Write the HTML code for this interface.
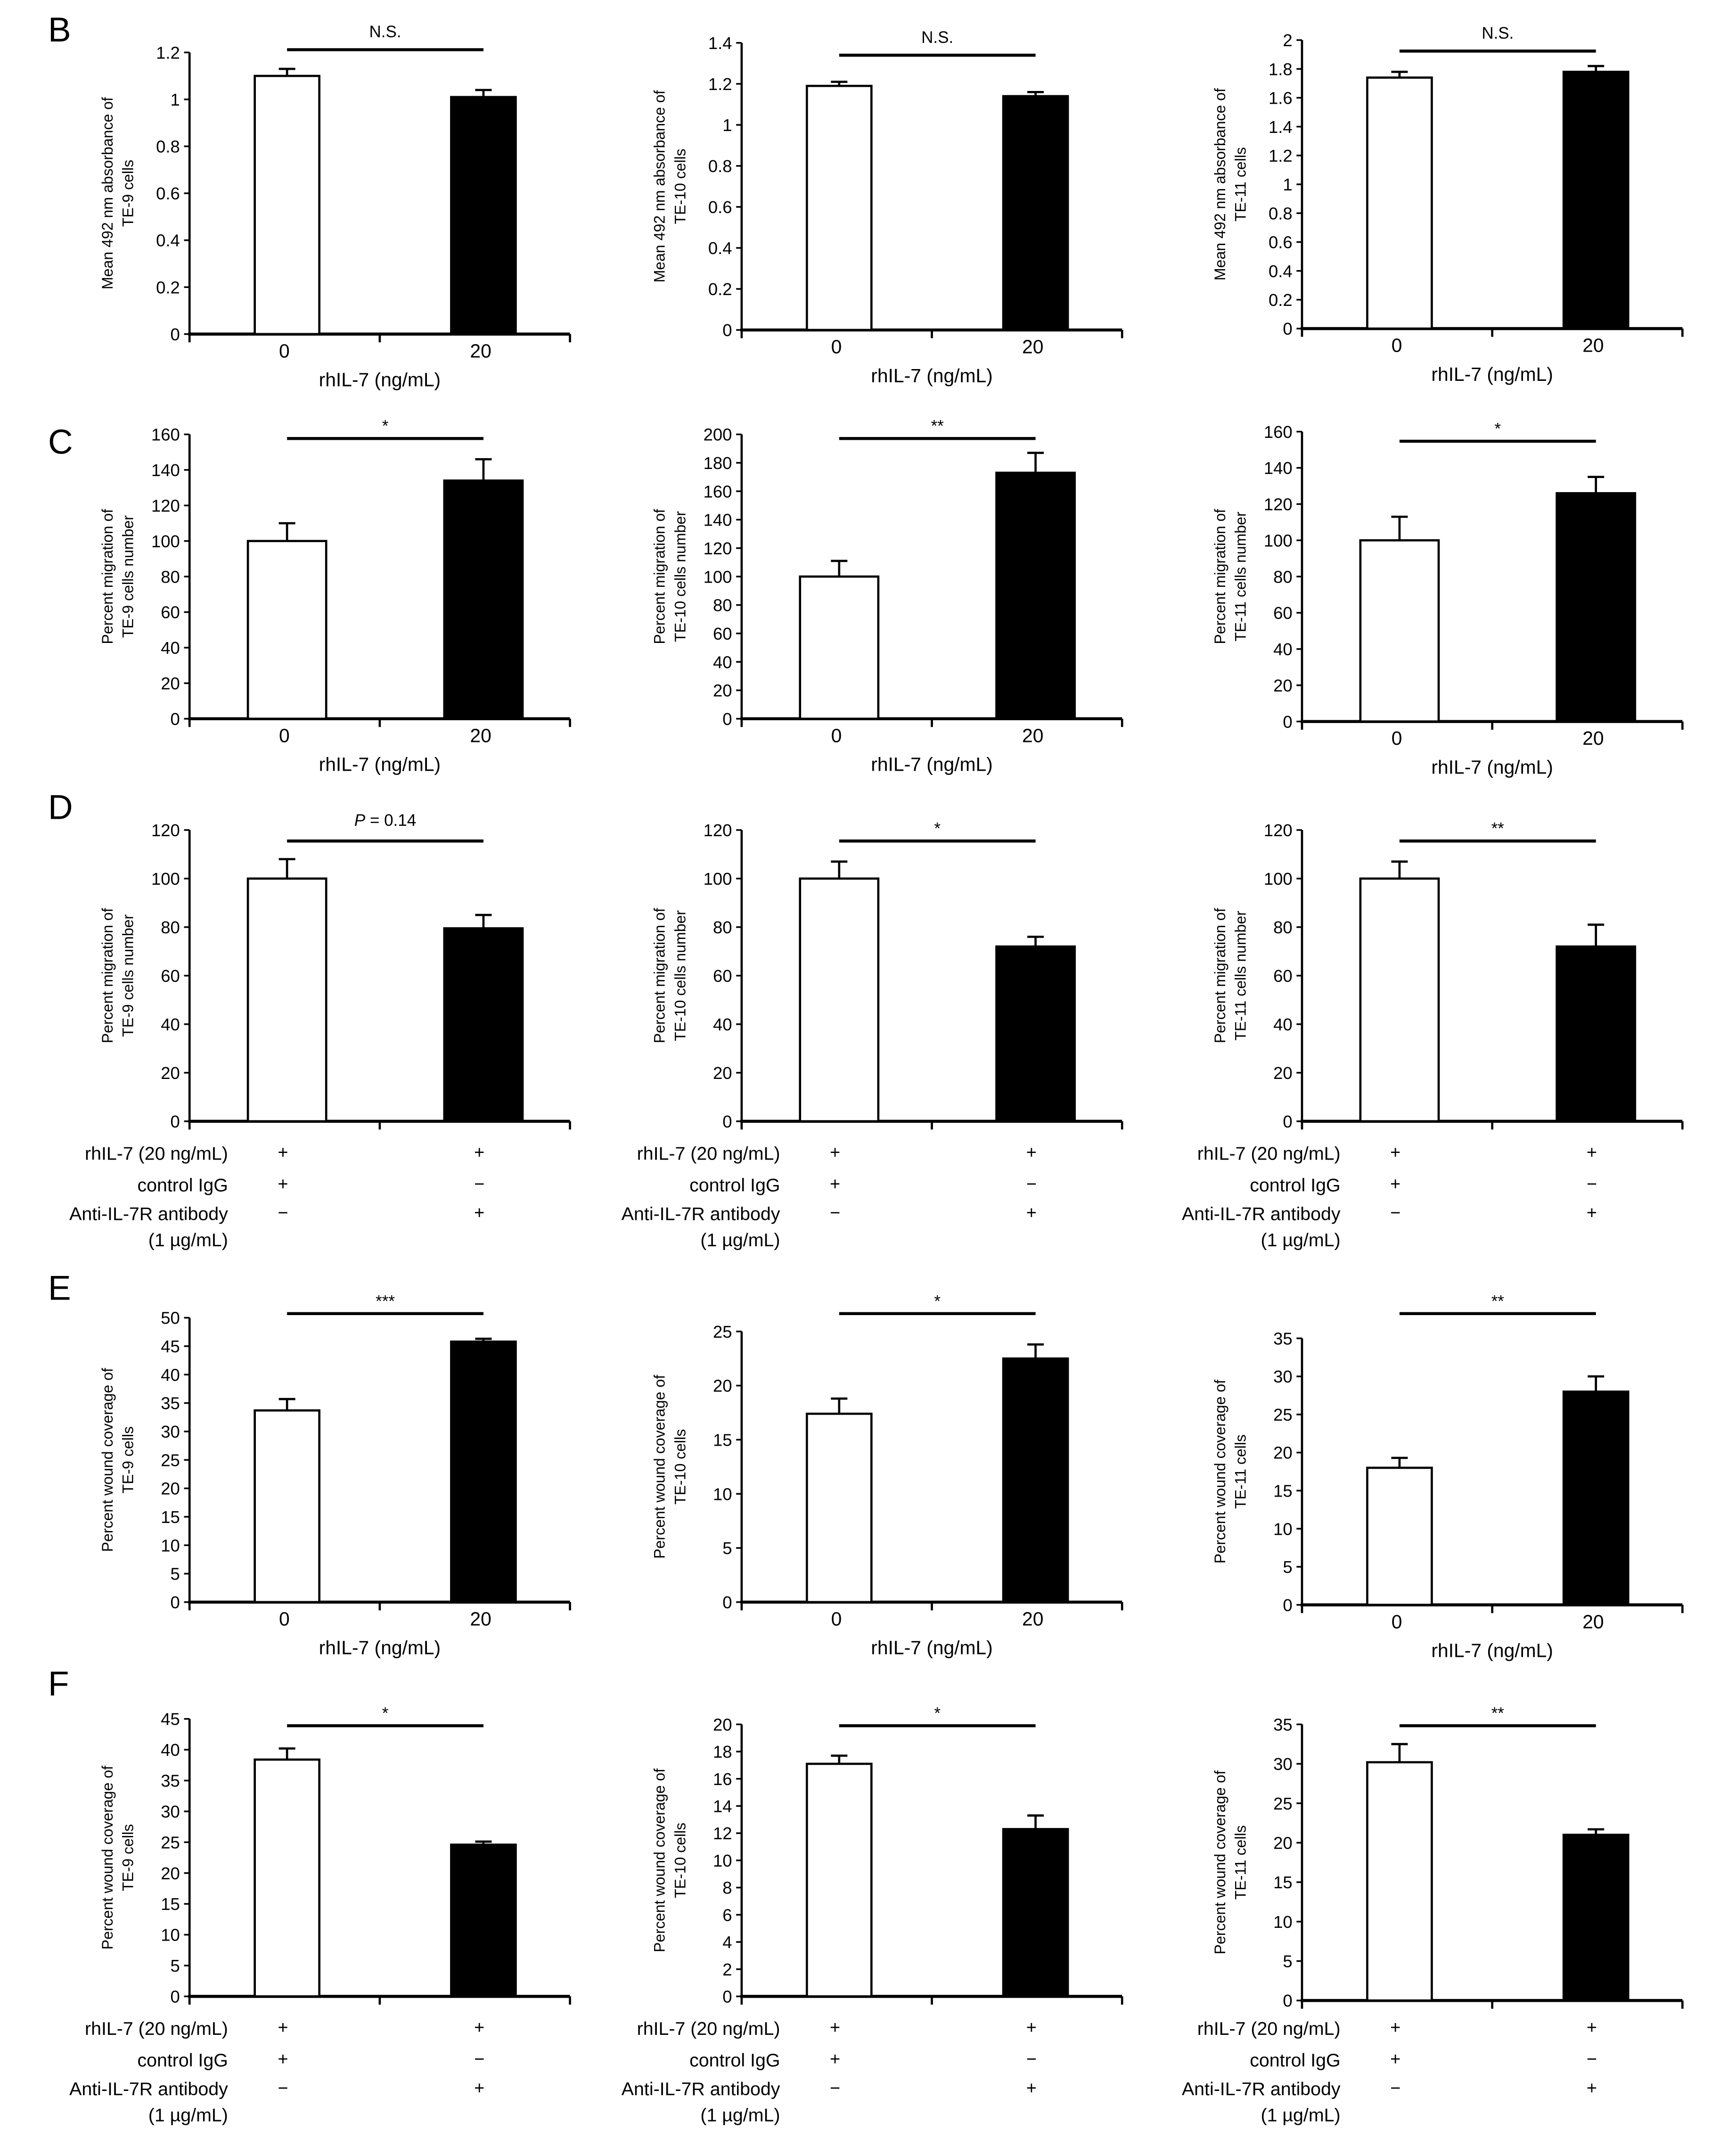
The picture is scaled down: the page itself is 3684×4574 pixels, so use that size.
<!DOCTYPE html>
<html><head><meta charset="utf-8"><style>
html,body{margin:0;padding:0;background:#fff}
svg{display:block}
text{font-family:"Liberation Sans",sans-serif;fill:#000}
</style></head><body>
<svg id="fig" width="3684" height="4574" viewBox="0 0 1264 1569" xmlns="http://www.w3.org/2000/svg"></svg>
<script>
// data (per row, per column)
const rowLetters = ["B","C","D","E","F"];
const cellLines = ["TE-9","TE-10","TE-11"];
const controlValues = [[1.10,1.19,1.74],[100,100,100],[100,100,100],[33.7,17.4,18.0],[38.4,17.1,30.2]];
const treatedValues = [[1.01,1.14,1.78],[134,173,126],[79.5,72,72],[45.8,22.5,28.0],[24.6,12.3,21.0]];
const controlErrors = [[0.03,0.02,0.04],[10,11,13],[8,7,7],[2.0,1.4,1.3],[1.8,0.6,2.3]];
const treatedErrors = [[0.03,0.02,0.04],[12,14,9],[5.5,4,9],[0.5,1.3,2.0],[0.5,1.0,0.7]];
const yMax = [[1.2,1.4,2],[160,200,160],[120,120,120],[50,25,35],[45,20,35]];
const yStep = [[0.2,0.2,0.2],[20,20,20],[20,20,20],[5,5,5],[5,2,5]];
const sigLabels = [["N.S.","N.S.","N.S."],["*","**","*"],["P = 0.14","*","**"],["***","*","**"],["*","*","**"]];
const yTitles = [["Mean 492 nm absorbance  of","cells"],["Percent migration of","cells number"],["Percent migration of","cells number"],["Percent wound  coverage of","cells"],["Percent wound  coverage of","cells"]];
const rowType = ["dose","dose","block","dose","block"];

// layout
const colX = [138,540,948], axW = 277;
const rowTop = [[38,31,29],[316,316,314],[604,604,604],[959,969,974],[1251,1255,1255]];
const rowZero = [[243,240,239],[523,523,525],[816,816,816],[1166,1166,1168],[1453,1453,1456]];
const barW = [47,57,57,47,47];
const sigY = [[36,40,37],[319,319,321],[612,612,612],[956,956,956],[1256,1256,1256]];
const letterY = [30,330,596,946,1234];
const labelBase = [0,0,816,0,1453];
const svg = document.getElementById('fig');
const NS = "http://www.w3.org/2000/svg";
function el(tag, attrs, txt){const e=document.createElementNS(NS,tag);for(const k in attrs)e.setAttribute(k,attrs[k]);if(txt!==undefined)e.textContent=txt;svg.appendChild(e);return e;}

rowLetters.forEach((L,r)=>{
  const t=el('text',{x:35,y:letterY[r],'font-size':25},L);
  
  
  for(let c=0;c<3;c++){
    const x0=colX[c], top=rowTop[r][c], zero=rowZero[r][c], max=yMax[r][c];
    const y=v=>zero-(v/max)*(zero-top);
    const cx=[x0+71, x0+214];
    const id=L.toLowerCase()+'-'+(c+1);
    const ya=el('line',{x1:x0,y1:top,x2:x0,y2:zero,stroke:'#000','stroke-width':1.6});
    
    
    const xa=el('line',{x1:x0-1,y1:zero,x2:x0+axW,y2:zero,stroke:'#000','stroke-width':2.2});
    
    
    [0,0.5,1].forEach(f=>{el('line',{x1:x0+axW*f,y1:zero,x2:x0+axW*f,y2:zero+6,stroke:'#000','stroke-width':1.6});});
    const step=yStep[r][c];
    for(let v=0; v<=max+1e-9; v+=step){
      const yy=y(v);
      el('line',{x1:x0-4,y1:yy,x2:x0,y2:yy,stroke:'#000','stroke-width':1.2});
      const lab=Math.round(v*10)/10;
      const tl=el('text',{x:x0-7,y:yy+4.5,'font-size':12.5,'text-anchor':'end'},String(lab));
      
      
    }
    const tx=x0-56;
    const g=el('text',{x:0,y:0,'font-size':11,'text-anchor':'middle',transform:`translate(${tx},${(top+zero)/2}) rotate(-90)`},yTitles[r][0]);
    
    
    el('text',{x:0,y:0,'font-size':11,'text-anchor':'middle',transform:`translate(${tx+15},${(top+zero)/2}) rotate(-90)`},cellLines[c]+' '+yTitles[r][1]);
    const vals=[controlValues[r][c],treatedValues[r][c]], errs=[controlErrors[r][c],treatedErrors[r][c]];
    vals.forEach((v,i)=>{
      const bx=cx[i]-barW[r]/2;
      const e1=el('line',{x1:cx[i],y1:y(v),x2:cx[i],y2:y(v+errs[i]),stroke:'#000','stroke-width':1.6});
      
      
      el('line',{x1:cx[i]-6,y1:y(v+errs[i]),x2:cx[i]+6,y2:y(v+errs[i]),stroke:'#000','stroke-width':1.6});
      const b=el('rect',{x:bx,y:y(v),width:barW[r],height:zero-y(v),fill:i?'#000':'#fff',stroke:'#000','stroke-width':1.6});
      
      
    });
    const sy=sigY[r][c];
    const sb=el('line',{x1:cx[0],y1:sy,x2:cx[1],y2:sy,stroke:'#000','stroke-width':2.2});
    
    
    const s=sigLabels[r][c];
    let st;
    if(s.startsWith('P')){
      st=el('text',{x:(cx[0]+cx[1])/2,y:sy-11,'font-size':12,'text-anchor':'middle'});
      const a=document.createElementNS(NS,'tspan');a.setAttribute('font-style','italic');a.textContent='P';st.appendChild(a);
      const b2=document.createElementNS(NS,'tspan');b2.textContent=' = 0.14';st.appendChild(b2);
    } else st=el('text',{x:(cx[0]+cx[1])/2,y:sy-(s=='N.S.'?9:5),'font-size':12,'text-anchor':'middle'},s);
    
    
    if(rowType[r]=='dose'){
      ['0','20'].forEach((t,i)=>{const k=el('text',{x:cx[i]-2,y:zero+17,'font-size':14,'text-anchor':'middle'},t);
        });
      const xt=el('text',{x:x0+axW/2,y:zero+38,'font-size':14,'text-anchor':'middle'},'rhIL-7 (ng/mL)');
      
      
    } else {
      const base=labelBase[r];
      const rows=[['rhIL-7 (20 ng/mL)','+','+'],['control IgG','+','\u2212'],['Anti-IL-7R antibody','\u2212','+'],['(1 \u00b5g/mL)','','']];
      const dy=[28,51,72,91];
      rows.forEach((rw,k)=>{
        const lt=el('text',{x:x0+28,y:base+dy[k],'font-size':13.5,'text-anchor':'end'},rw[0]);
        
        
        [1,2].forEach(i=>{if(rw[i])el('text',{x:cx[i-1]-3,y:base+dy[k]-1,'font-size':13,'text-anchor':'middle'},rw[i]);});
      });
    }
  }
});
</script>
</body></html>
